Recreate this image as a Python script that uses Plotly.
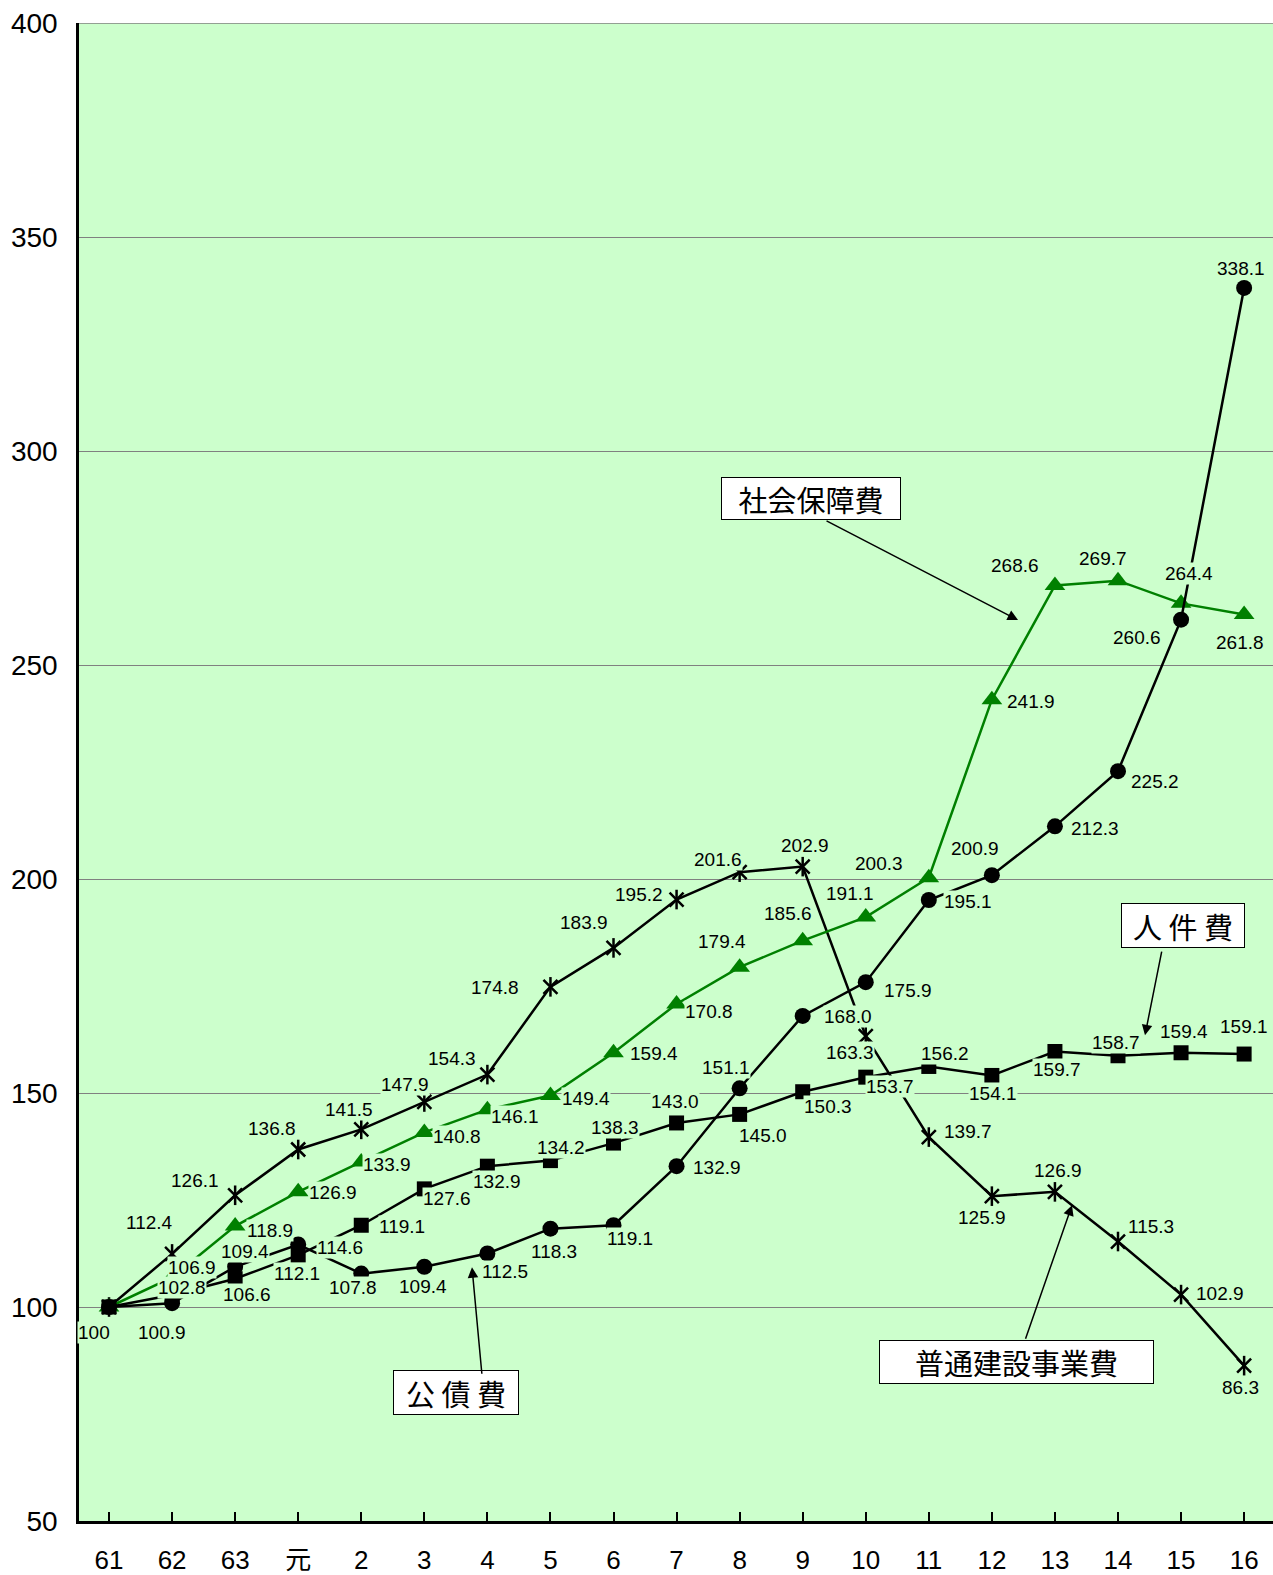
import plotly.graph_objects as go

categories = ["61", "62", "63", "元", "2", "3", "4", "5", "6", "7", "8", "9",
              "10", "11", "12", "13", "14", "15", "16"]

kousaihi = [100, 100.9, 109.4, 114.6, 107.8, 109.4, 112.5, 118.3, 119.1, 132.9,
            151.1, 168.0, 175.9, 195.1, 200.9, 212.3, 225.2, 260.6, 338.1]
jinkenhi = [100, 102.8, 106.6, 112.1, 119.1, 127.6, 132.9, 134.2, 138.3, 143.0,
            145.0, 150.3, 153.7, 156.2, 154.1, 159.7, 158.7, 159.4, 159.1]
shakaihosho = [100, 106.9, 118.9, 126.9, 133.9, 140.8, 146.1, 149.4, 159.4, 170.8,
               179.4, 185.6, 191.1, 200.3, 241.9, 268.6, 269.7, 264.4, 261.8]
futsukensetsu = [100, 112.4, 126.1, 136.8, 141.5, 147.9, 154.3, 174.8, 183.9, 195.2,
                 201.6, 202.9, 163.3, 139.7, 125.9, 126.9, 115.3, 102.9, 86.3]

y_ticks = [50, 100, 150, 200, 250, 300, 350, 400]

# label offsets in pixels (dx, dy up-positive); None = no label
off_kousai = [(-15, -25), (-10, -29), (10, 15), (42, -3), (-8, -14), (-1, -20),
              (18, -18), (4, -23), (16, -13), (40, -1), (-14, 21), (45, -1),
              (42, -8), (39, -2), (-17, 27), (40, -2), (37, -10), (-44, -18), (-3, 19)]
off_jinken = [None, (10, 8), (12, -16), (-1, -18), (41, -1), (23, -10), (10, -15),
              (11, 13), (1, 16), (-2, 21), (23, -21), (25, -15), (24, -9), (16, 13),
              (1, -18), (2, -18), (-2, 13), (3, 21), (0, 28)]
off_shakai = [None, (20, 10), (35, -4), (35, -1), (26, -3), (33, -4), (28, -7),
              (36, -3), (40, -1), (32, -8), (-18, 26), (-15, 27), (-16, 24),
              (-50, 14), (39, -2), (-40, 20), (-15, 22), (8, 30), (-4, -28)]
off_futsu = [None, (-23, 31), (-40, 15), (-26, 21), (-12, 20), (-19, 17), (-35, 16),
             (-55, -1), (-30, 25), (-38, 5), (-22, 13), (2, 21), (-16, -16),
             (39, 6), (-10, -21), (3, 21), (33, 15), (39, 1), (-4, -22)]

BG = "#CCFFCC"
GREEN = "#008000"
FONT = "Liberation Sans, Arial, Noto Sans CJK JP"
CJK = "Noto Sans CJK JP, Liberation Sans"

xs = list(range(len(categories)))

fig = go.Figure()

fig.add_trace(go.Scatter(x=xs, y=futsukensetsu, mode="lines+markers",
                         line=dict(color="black", width=2.5),
                         marker=dict(symbol="x-thin-open", size=14, color="black",
                                     line=dict(color="black", width=2.5)),
                         name="普通建設事業費"))
fig.add_trace(go.Scatter(x=xs, y=futsukensetsu, mode="markers",
                         marker=dict(symbol="line-ns-open", size=14, color="black",
                                     line=dict(color="black", width=2.5)),
                         showlegend=False))
fig.add_trace(go.Scatter(x=xs, y=shakaihosho, mode="lines+markers",
                         line=dict(color=GREEN, width=2.5),
                         marker=dict(symbol="triangle-up", size=18, color=GREEN),
                         name="社会保障費"))
fig.add_trace(go.Scatter(x=xs, y=jinkenhi, mode="lines+markers",
                         line=dict(color="black", width=2.5),
                         marker=dict(symbol="square", size=15, color="black"),
                         name="人件費"))
fig.add_trace(go.Scatter(x=xs, y=kousaihi, mode="lines+markers",
                         line=dict(color="black", width=2.5),
                         marker=dict(symbol="circle", size=16, color="black"),
                         name="公債費"))

annotations = []
for vals, offs in [(kousaihi, off_kousai), (jinkenhi, off_jinken),
                   (shakaihosho, off_shakai), (futsukensetsu, off_futsu)]:
    for i, (v, o) in enumerate(zip(vals, offs)):
        if o is None:
            continue
        txt = "100" if i == 0 else f"{v:.1f}"
        annotations.append(dict(x=xs[i], y=v, text=txt, showarrow=False,
                                xshift=o[0], yshift=o[1], bgcolor=BG,
                                borderpad=0,
                                font=dict(family=FONT, size=19, color="black")))

# series name boxes (text, x, y, box width px, box height px) and arrows
boxes = [
    ("社会保障費", 11.132, 289.0, 180, 43),
    ("人 件 費", 17.031, 189.25, 124, 45),
    ("普通建設事業費", 14.383, 87.15, 275, 44),
    ("公 債 費", 5.502, 80.14, 126, 45),
]
for txt, bx, by, bw, bh in boxes:
    annotations.append(dict(x=bx, y=by, text=txt, showarrow=False,
                            bgcolor="white", bordercolor="black", borderwidth=1,
                            borderpad=1, width=bw - 4, height=bh - 4,
                            font=dict(family=CJK, size=29, color="black")))

arrows = [
    (14.415, 260.5, -193, -100),
    (16.428, 163.5, 17, -85),
    (15.271, 123.8, -47, 135),
    (5.756, 109.3, 10, 108),
]
for ax_, ay_, dx, dy in arrows:
    annotations.append(dict(x=ax_, y=ay_, text="", showarrow=True,
                            ax=dx, ay=dy, arrowhead=2, arrowsize=1.4,
                            arrowwidth=1.5, arrowcolor="black"))

fig.update_layout(
    width=1273, height=1575,
    margin=dict(l=79, r=0, t=23, b=54, autoexpand=False),
    paper_bgcolor="white", plot_bgcolor=BG,
    showlegend=False,
    annotations=annotations,
    font=dict(family=FONT, color="black"),
    shapes=[dict(type="line", xref="paper", yref="y", x0=0, x1=1, y0=400, y1=400,
                 line=dict(color="#808080", width=1.5))],
)
fig.update_xaxes(range=[-0.476, 18.458], tickmode="array",
                 tickvals=xs, ticktext=categories, ticks="inside",
                 tickson="boundaries", ticklen=9, tickwidth=1.5, tickcolor="black",
                 showgrid=False, showline=True, linecolor="black", linewidth=2.5,
                 ticklabelstandoff=14, zeroline=False, automargin=False,
                 tickfont=dict(family=FONT, size=26, color="black"))
fig.update_yaxes(range=[50, 400], tickmode="array", tickvals=y_ticks,
                 showgrid=True, gridcolor="#808080", gridwidth=1.2,
                 showline=True, linecolor="black", linewidth=2.5,
                 ticks="", ticklabelstandoff=13, zeroline=False, automargin=False,
                 tickfont=dict(family=FONT, size=28, color="black"))

fig.write_html("out.html", config={"displayModeBar": False},
               post_script="document.body.style.margin='0';"
                           "document.body.style.overflow='hidden';")
